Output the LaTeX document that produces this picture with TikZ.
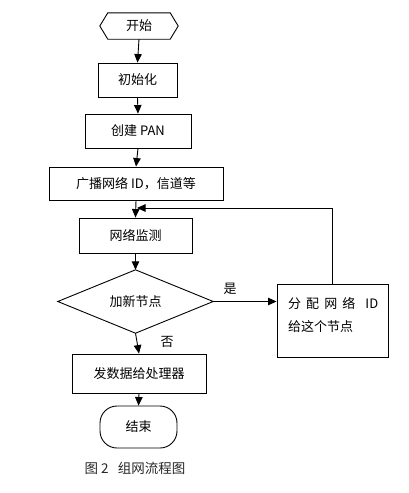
\documentclass[tikz,border=0pt]{standalone}
\usepackage{fontspec}
\setmainfont{Noto Sans CJK SC}
\usetikzlibrary{arrows.meta}
\begin{document}
\begin{tikzpicture}[x=1pt,y=-1pt,
  every node/.style={font=\fontsize{13}{15}\selectfont, inner sep=0pt},
  box/.style={draw, line width=0.9pt, minimum width=#1},
  ghost/.style={minimum width=#1},
  arr/.style={line width=0.9pt, -{Triangle[length=8.5pt,width=7.5pt]}},
  lbl/.style={font=\fontsize{13}{15}\selectfont}]
\useasboundingbox (0,0) rectangle (409,493);
% start hexagon
\node[ghost=78pt, minimum height=26pt] (s) at (139,26) {开始};
\draw[line width=0.9pt] (s.west) -- ([xshift=8pt]s.north west) -- ([xshift=-8pt]s.north east) -- (s.east) -- ([xshift=-8pt]s.south east) -- ([xshift=8pt]s.south west) -- cycle;
\node[box=79pt, minimum height=34pt] (i) at (137.5,80) {初始化};
\node[box=106pt, minimum height=34pt] (c) at (138,131) {创建 PAN};
\node[box=174pt, minimum height=33pt] (b) at (136,183.5) {广播网络 ID，信道等};
\node[box=113pt, minimum height=35pt] (m) at (135.5,235.5) {网络监测};
\node[ghost=155pt, minimum height=63pt] (d) at (135.5,301.5) {加新节点};
\draw[line width=0.9pt] (d.west) -- (d.north) -- (d.east) -- (d.south) -- cycle;
\node[box=111pt, minimum height=73pt] (r) at (332.5,320.5) {};
\node[anchor=west] (r1) at (288,303) {\makebox[90pt][s]{分\hfil 配\hfil 网\hfil 络\hfil\hfil ID}};
\node[anchor=west] (r2) at (288,327) {给这个节点};
\node[box=134pt, minimum height=39pt] (p) at (139,373.5) {发数据给处理器};
\node[draw, line width=0.9pt, minimum width=77pt, minimum height=42pt, rounded corners=17pt] (e) at (138.5,427) {结束};
\node (yes) at (230,289) {是};
\node (no) at (167,342) {否};
\node[font=\fontsize{13.5}{15}\selectfont, text=black!85] (cap) at (135,468) {图 2\ \ \ 组网流程图};
\coordinate (j) at (137,208);
% connectors
\draw[arr] (s.south) -- (i.north);
\draw[arr] (i.south) -- (c.north);
\draw[arr] (c.south) -- (b.north);
\draw[arr] (b.south) -- (m.north);
\draw[arr] (m.south) -- (d.north);
\draw[arr] (d.south) -- (p.north);
\draw[arr] (p.south) -- (e.north);
\draw[arr] (d.east) -- (d.east -| r.west);
\draw[arr] (r.north) |- (j);
\end{tikzpicture}
\end{document}
